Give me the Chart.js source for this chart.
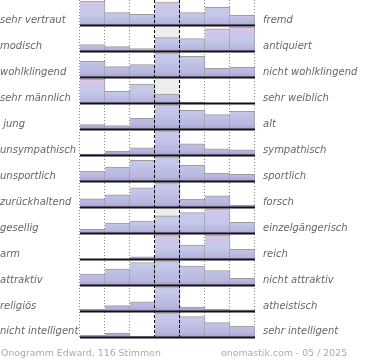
<!DOCTYPE html>
<html lang="de">
<head>
<meta charset="utf-8">
<title>Onogramm Edward</title>
<script src="https://cdn.jsdelivr.net/npm/chart.js@4.4.1/dist/chart.umd.min.js"></script>
<style>
  html, body { margin: 0; padding: 0; background: #fff; }
  .wrap { position: relative; width: 370px; height: 360px; overflow: hidden; }
  .foot { position: absolute; top: 346px; font: 9.4px "DejaVu Sans", sans-serif; color: #aaa; white-space: nowrap; line-height: 14px; }
</style>
</head>
<body>
<div class="wrap">
  <canvas id="ono" width="370" height="360"></canvas>
  <div class="foot" style="left:1px">Onogramm Edward, 116 Stimmen</div>
  <div class="foot" style="left:221px">onomastik.com - 05 / 2025</div>
</div>
<script>
// ─── Data ─────────────────────────────────────────────────────────────────────
const leftLabels = ['sehr vertraut', 'modisch', 'wohlklingend', 'sehr männlich', ' jung', 'unsympathisch',
  'unsportlich', 'zurückhaltend', 'gesellig', 'arm', 'attraktiv', 'religiös', 'nicht intelligent'];
const rightLabels = ['fremd', 'antiquiert', 'nicht wohlklingend', 'sehr weiblich', 'alt', 'sympathisch',
  'sportlich', 'forsch', 'einzelgängerisch', 'reich', 'nicht attraktiv', 'atheistisch', 'sehr intelligent'];
const steps = ['1', '2', '3', '4', '5', '6', '7'];

// bar heights, 100 = full row height
const vertraut     = [100, 52, 45, 93, 52, 74, 41];
const modisch      = [28, 19, 11, 56, 52, 92, 100];
const klang        = [65, 44, 52, 100, 86, 37, 41];
const maennlich    = [99, 49, 79, 38, 5, 0, 0];
const jung         = [19, 15, 45, 100, 78, 60, 74];
const sympathisch  = [4, 16, 30, 100, 47, 26, 22];
const sportlich    = [41, 58, 86, 100, 65, 33, 28];
const forsch       = [34, 51, 79, 100, 33, 47, 8];
const gesellig     = [16, 41, 49, 71, 84, 100, 44];
const reich        = [0, 0, 9, 100, 58, 99, 40];
const attraktiv    = [45, 66, 93, 100, 78, 60, 28];
const religioes    = [8, 22, 38, 100, 16, 8, 5];
const intelligent  = [8, 16, 4, 100, 84, 59, 45];

// middle bar runs past the top of its row (cut off)
const overflow = [false, false, true, false, true, true, true, true, false, false, true, true, true];

const rows = [vertraut, modisch, klang, maennlich, jung, sympathisch, sportlich,
  forsch, gesellig, reich, attraktiv, religioes, intelligent];

// ─── Layout in value units ────────────────────────────────────────────────────
const FULL = 100;
const ROW = 107;
const YMAX = (rows.length - 1) * ROW + FULL;
const MID = 3;
const rowBase = r => (rows.length - 1 - r) * ROW;

// ─── Bar fill: purple at the base, blue, pink towards the top ─────────────────
const gradCache = {};
function barFill(c) {
  const chart = c.chart;
  const area = chart.chartArea;
  if (!area) return '#c3cae9';
  const r = c.datasetIndex;
  const key = r + ':' + area.bottom + ':' + area.top;
  if (!gradCache[key]) {
    const y = chart.scales.y;
    const span = overflow[r] ? 170 : FULL;
    const g = chart.ctx.createLinearGradient(0, y.getPixelForValue(rowBase(r)), 0, y.getPixelForValue(rowBase(r) + span));
    g.addColorStop(0, '#a69ecf');
    g.addColorStop(0.1, '#b8b6df');
    g.addColorStop(0.45, '#c4c9e9');
    g.addColorStop(0.7, '#c9c8ea');
    g.addColorStop(1, '#dec4e5');
    gradCache[key] = g;
  }
  return gradCache[key];
}

function vline(ctx, x, y0, y1) {
  ctx.beginPath();
  ctx.moveTo(x, y0);
  ctx.lineTo(x, y1);
  ctx.stroke();
}

function columnEdges(x) {
  const half = (x.getPixelForValue(1) - x.getPixelForValue(0)) / 2;
  const edges = steps.map((s, i) => x.getPixelForValue(i) - half);
  edges.push(x.getPixelForValue(steps.length - 1) + half);
  return edges;
}

// ─── Frame: grey middle band, dividers, baselines ────────────────────────────
const frame = {
  id: 'frame',
  beforeDatasetsDraw(chart) {
    const { ctx, chartArea: a, scales: { x, y } } = chart;
    const edges = columnEdges(x);
    ctx.save();
    ctx.fillStyle = '#ededed';
    rows.forEach((_, r) => {
      const b = y.getPixelForValue(rowBase(r));
      const t = Math.max(0, y.getPixelForValue(rowBase(r) + ROW - 6));
      ctx.fillRect(edges[MID], t, edges[MID + 1] - edges[MID], b - t);
    });
    ctx.strokeStyle = '#8a8a8a';
    ctx.lineWidth = 1;
    ctx.setLineDash([1, 2]);
    edges.forEach((e, i) => {
      if (i === MID || i === MID + 1) return;
      vline(ctx, Math.round(e) - 0.5, 0, a.bottom);
    });
    ctx.restore();
  },
  afterDatasetsDraw(chart) {
    const { ctx, chartArea: a, scales: { x, y } } = chart;
    const edges = columnEdges(x);
    ctx.save();
    ctx.strokeStyle = '#000';
    ctx.lineWidth = 1;
    ctx.setLineDash([3, 2]);
    vline(ctx, Math.round(edges[MID]) - 0.5, 0, a.bottom);
    vline(ctx, Math.round(edges[MID + 1]) - 0.5, 0, a.bottom);
    ctx.setLineDash([]);
    ctx.lineWidth = 2;
    ctx.strokeStyle = '#111';
    rows.forEach((_, r) => {
      const b = Math.round(y.getPixelForValue(rowBase(r))) + 0.5;
      ctx.beginPath();
      ctx.moveTo(edges[0], b);
      ctx.lineTo(edges[edges.length - 1], b);
      ctx.stroke();
    });
    ctx.restore();
  }
};

const labelTicks = () => rows.map((_, r) => ({ value: rowBase(r) + 21 }));
const labelFont = { family: 'DejaVu Sans', size: 10, style: 'italic' };
// fixed axis widths, no extra label padding above/below the plot
const fixAxis = w => s => { s.width = w; s.paddingTop = 0; s.paddingBottom = 0; };

new Chart(document.getElementById('ono'), {
  type: 'bar',
  data: {
    labels: steps,
    datasets: rows.map((vals, r) => ({
      data: vals.map(v => v > 0 ? [rowBase(r), rowBase(r) + v] : null),
      backgroundColor: barFill,
      borderColor: '#9c9c9c',
      borderWidth: { top: 1, right: 1, bottom: 0, left: 0 },
      borderSkipped: false,
      grouped: false,
      barPercentage: 1,
      categoryPercentage: 1,
    })),
  },
  options: {
    responsive: false,
    animation: false,
    layout: { padding: { top: 1, bottom: 23, left: 0, right: 0 } },
    plugins: { legend: { display: false }, tooltip: { enabled: false } },
    scales: {
      x: { display: false, offset: true },
      y: {
        position: 'left', min: 0, max: YMAX,
        grid: { display: false, drawTicks: false }, border: { display: false },
        afterBuildTicks: s => { s.ticks = labelTicks(); },
        afterFit: fixAxis(80),
        ticks: { autoSkip: false, crossAlign: 'far', padding: 0, color: '#666', font: labelFont,
          callback: (v, i) => leftLabels[i] },
      },
      y2: {
        position: 'right', min: 0, max: YMAX,
        grid: { display: false, drawTicks: false }, border: { display: false },
        afterBuildTicks: s => { s.ticks = labelTicks(); },
        afterFit: fixAxis(115),
        ticks: { autoSkip: false, crossAlign: 'near', padding: 8, color: '#666', font: labelFont,
          callback: (v, i) => rightLabels[i] },
      },
    },
  },
  plugins: [frame],
});
</script>
</body>
</html>
